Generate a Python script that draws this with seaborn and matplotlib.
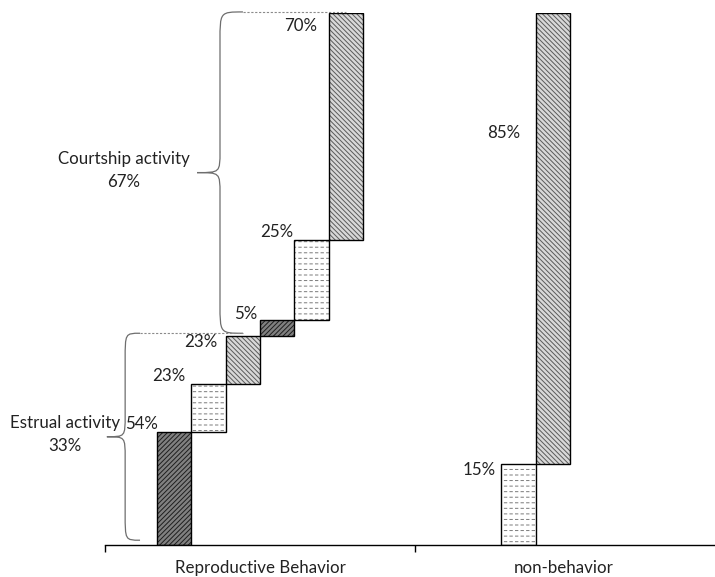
import matplotlib
matplotlib.use("Agg")
import matplotlib.pyplot as plt
from matplotlib.path import Path
from matplotlib.patches import PathPatch
import seaborn as sns

categories = ["Reproductive Behavior", "non-behavior"]
segment_labels = ["54%", "23%", "23%", "5%", "25%", "70%", "15%", "85%"]
segment_heights = [21.2, 9.0, 9.0, 3.0, 15.1, 42.7, 15.2, 84.8]
segment_group = [0, 0, 0, 0, 0, 0, 1, 1]
segment_slot = [0, 1, 2, 3, 4, 5, 1, 2]
segment_style = ["dark", "dash", "light", "dark", "dash", "light", "dash", "light"]
# label offsets (pixels) from the top-left corner of each bar
label_dx = [1, -6, -8, -3, -1, -12, -5, -15]
label_dy = [8, 8, -6, 6, 8, -13, -6, -120]

group_names = ["Estrual activity\n33%", "Courtship activity\n67%"]
group_members = [[0, 1, 2], [3, 4, 5]]

styles = {
    "dark": dict(face="#808080", hatch="///////", hcolor="#1e1e1e"),
    "light": dict(face="#d8d8d8", hatch="\\\\\\\\\\\\\\", hcolor="#5a5a5a"),
    "dash": dict(face="white", hatch="---", hcolor="#7a7a7a"),
}

sns.set_theme(style="white")
plt.rcParams["font.family"] = ["Lato", "DejaVu Sans"]
plt.rcParams["hatch.linewidth"] = 0.7
FS = 12.2

fig = plt.figure(figsize=(7.15, 5.77), dpi=100)
ax = fig.add_axes([105 / 715, 32 / 577, 610 / 715, 532 / 577])

width = 0.111
bottoms = []
running = [0.0, 0.0]
lefts = []
for h, g, s in zip(segment_heights, segment_group, segment_slot):
    bottoms.append(running[g])
    running[g] += h
    lefts.append(g + (s - 2.5) * width - width / 2)

for i, h in enumerate(segment_heights):
    st = styles[segment_style[i]]
    ax.bar(lefts[i], h, width=width, bottom=bottoms[i], align="edge",
           color=st["face"], hatch=st["hatch"], edgecolor=st["hcolor"], linewidth=0)
    if segment_style[i] == "dash":
        # white vertical hatch cuts the horizontal lines into dashes
        with plt.rc_context({"hatch.linewidth": 1.6}):
            ax.bar(lefts[i], h, width=width, bottom=bottoms[i], align="edge",
                   fill=False, hatch="|||", edgecolor="white", linewidth=0)
    ax.bar(lefts[i], h, width=width, bottom=bottoms[i], align="edge",
           fill=False, edgecolor="black", linewidth=1.0)
    ax.annotate(segment_labels[i], xy=(lefts[i], bottoms[i] + h),
                xytext=(label_dx[i], label_dy[i]), textcoords="offset pixels",
                ha="right", va="center", fontsize=FS, color="#222222")


def brace(ax, xe, xs, xt, y0, y1, r_end, r_tip):
    mid = (y0 + y1) / 2
    verts = [
        (xe, y1), (xs, y1), (xs, y1), (xs, y1 - r_end),
        (xs, mid + r_tip),
        (xs, mid), (xs, mid), (xt, mid),
        (xs, mid), (xs, mid), (xs, mid - r_tip),
        (xs, y0 + r_end),
        (xs, y0), (xs, y0), (xe, y0),
    ]
    codes = [Path.MOVETO, Path.CURVE4, Path.CURVE4, Path.CURVE4,
             Path.LINETO,
             Path.CURVE4, Path.CURVE4, Path.CURVE4,
             Path.CURVE4, Path.CURVE4, Path.CURVE4,
             Path.LINETO,
             Path.CURVE4, Path.CURVE4, Path.CURVE4]
    ax.add_patch(PathPatch(Path(verts, codes), fill=False, edgecolor="#6e6e6e",
                           linewidth=0.9, clip_on=False))
    return mid


# estrual brace
est_top = sum(segment_heights[i] for i in group_members[0]) + 0.6
mid = brace(ax, -0.387, -0.435, -0.494, 0.9, est_top, 5.0, 4.0)
ax.plot([-0.387, lefts[2] + width / 2], [est_top, est_top], color="#8a8a8a",
        linestyle=(0, (2, 1.5)), linewidth=0.8, clip_on=False)
ax.text(-0.628, mid + 0.5, group_names[0], ha="center", va="center",
        fontsize=FS, color="#222222", linespacing=1.55)

# courtship brace
court_top = running[0] + 0.2
mid = brace(ax, -0.055, -0.129, -0.203, est_top, court_top, 5.5, 4.0)
ax.plot([-0.055, lefts[5] + width / 2], [court_top, court_top], color="#8a8a8a",
        linestyle=(0, (2, 1.5)), linewidth=0.8, clip_on=False)
ax.text(-0.439, mid + 0.4, group_names[1], ha="center", va="center",
        fontsize=FS, color="#222222", linespacing=1.55)

ax.set_xlim(-0.5, 1.468)
ax.set_ylim(0, 100)
ax.set_xticks([0, 0.98])
ax.set_xticklabels(categories, fontsize=FS, color="#222222")
ax.set_xticks([-0.5, 0.5], minor=True)
ax.tick_params(axis="x", which="major", length=0, pad=11)
ax.tick_params(axis="x", which="minor", length=5, width=1, color="black",
               direction="out", bottom=True)
ax.set_yticks([])
sns.despine(ax=ax, left=True)
ax.spines["bottom"].set_color("black")
ax.spines["bottom"].set_linewidth(1.0)

fig.savefig("out.png", dpi=100)
